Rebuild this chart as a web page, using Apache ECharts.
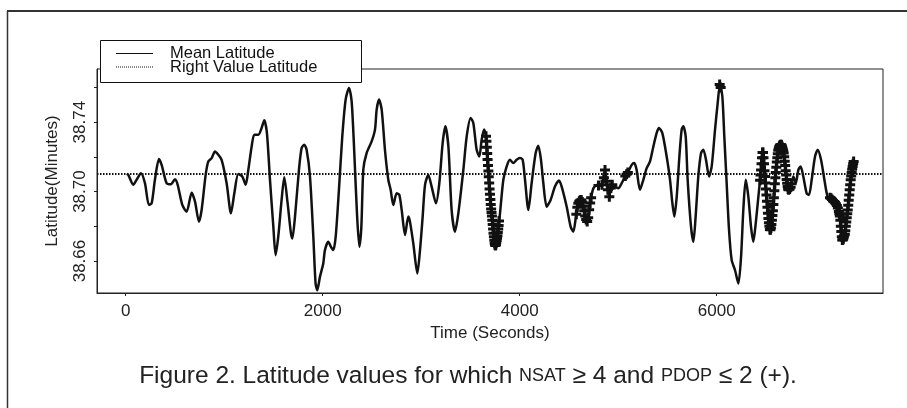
<!DOCTYPE html>
<html><head><meta charset="utf-8">
<script src="https://cdn.jsdelivr.net/npm/echarts@6/dist/echarts.min.js"></script>
<style>html,body{margin:0;padding:0;background:#fff}#c{width:907px;height:408px}</style>
</head><body><div id="c"></div>
<script>
// Mean latitude (time in seconds, latitude in minutes)
const timeSec = [10,27,77,111,155,196,236,264,297,338,365,416,460,500,528,575,619,670,704,744,771,812,839,873,907,940,974,1025,1069,1103,1143,1184,1218,1245,1279,1306,1347,1380,1407,1434,1465,1499,1522,1549,1583,1610,1644,1678,1692,1719,1759,1786,1813,1837,1871,1905,1928,1945,1972,2006,2023,2057,2084,2108,2132,2165,2199,2233,2267,2294,2321,2348,2372,2392,2413,2446,2497,2531,2548,2572,2599,2632,2666,2690,2717,2751,2778,2802,2836,2869,2886,2920,2961,2988,3015,3039,3072,3106,3150,3184,3218,3245,3276,3309,3343,3377,3428,3462,3502,3529,3563,3590,3614,3638,3658,3681,3715,3749,3773,3800,3834,3868,3901,3935,3969,4003,4030,4054,4088,4121,4162,4189,4216,4240,4274,4314,4358,4399,4426,4477,4517,4544,4571,4595,4629,4653,4687,4714,4748,4788,4832,4866,4890,4910,4934,4967,5001,5035,5069,5103,5137,5164,5187,5221,5255,5289,5323,5357,5390,5414,5448,5492,5526,5550,5570,5594,5621,5644,5661,5685,5705,5739,5763,5786,5813,5841,5864,5891,5922,5949,5983,6010,6033,6057,6077,6101,6125,6152,6186,6220,6247,6270,6294,6321,6348,6372,6396,6423,6450,6467,6490,6517,6541,6568,6599,6626,6653,6680,6707,6727,6754,6778,6802,6829,6852,6879,6913,6937,6964,6998,7025,7059,7093,7126,7160,7194,7228,7252,7275,7302,7330,7360,7390];
const meanLat = [38.7102,38.7096,38.7039,38.7068,38.7106,38.7048,38.6923,38.6933,38.7068,38.7187,38.7154,38.7048,38.7042,38.7071,38.7039,38.6923,38.6884,38.6994,38.6942,38.6827,38.6894,38.7096,38.7174,38.7193,38.7231,38.7212,38.7183,38.7048,38.6875,38.6990,38.7102,38.7087,38.7039,38.7125,38.7260,38.7328,38.7328,38.7366,38.7411,38.7337,38.7068,38.6798,38.6634,38.6740,38.6952,38.7083,38.6933,38.6759,38.6730,38.6856,38.7125,38.7251,38.7270,38.7241,38.7087,38.6740,38.6470,38.6432,38.6509,38.6586,38.6663,38.6711,38.6682,38.6663,38.6740,38.7010,38.7318,38.7530,38.7597,38.7520,38.7222,38.6875,38.6682,38.6790,38.7130,38.7222,38.7289,38.7357,38.7472,38.7530,38.7472,38.7241,38.7068,38.7010,38.6923,38.6990,38.6981,38.6894,38.6750,38.6856,38.6827,38.6701,38.6528,38.6663,38.6856,38.7039,38.7096,38.7029,38.6933,38.7048,38.7280,38.7376,38.7260,38.6894,38.6769,38.6875,38.7125,38.7318,38.7424,38.7395,38.7241,38.7202,38.7299,38.7357,38.7318,38.7125,38.6875,38.6692,38.6740,38.6875,38.7068,38.7145,38.7183,38.7164,38.7183,38.7193,38.7183,38.7068,38.6894,38.7048,38.7222,38.7264,38.7183,38.7048,38.6913,38.6952,38.7029,38.7064,38.7029,38.6913,38.6798,38.6769,38.6856,38.6933,38.6952,38.6894,38.6827,38.6933,38.7019,38.7039,38.7039,38.7125,38.7029,38.6971,38.7039,38.7029,38.7019,38.7048,38.7087,38.7115,38.7154,38.7164,38.7125,38.7010,38.7068,38.7135,38.7174,38.7260,38.7337,38.7366,38.7337,38.7202,38.7068,38.6933,38.6856,38.6971,38.7202,38.7357,38.7376,38.7318,38.7068,38.6798,38.6711,38.6856,38.7087,38.7222,38.7241,38.7183,38.7087,38.7145,38.7357,38.7511,38.7617,38.7549,38.7318,38.7048,38.6779,38.6605,38.6547,38.6470,38.6624,38.6894,38.7068,38.6971,38.6798,38.6711,38.6817,38.6971,38.7125,38.7231,38.7087,38.6894,38.6779,38.6875,38.7106,38.7241,38.7270,38.7222,38.7087,38.7010,38.7029,38.7087,38.7048,38.7125,38.7145,38.7087,38.6990,38.6981,38.7068,38.7202,38.7241,38.7183,38.7068,38.6971,38.6962,38.6942,38.6913,38.6856,38.6721,38.6759,38.6894,38.7068,38.7174];

// Points flagged with "+" (NSAT >= 4 and PDOP <= 2)
const markTime = [3658,3662,3666,3670,3674,3678,3682,3686,3690,3694,3698,3702,3706,3710,3714,3718,3722,3726,3730,3734,3738,3742,3746,3750,3754,3758,3762,3766,3770,3774,3778,3782,3786,3790,
  4575,4585,4595,4605,4615,4625,4635,4645,4655,4665,4675,4685,4695,4705,4715,4725,
  4800,4835,4855,4866,4880,4895,4910,4925,4940,
  5072,5085,5098,
  6030,6040,
  6440,6445,6450,6455,6460,6465,6470,6475,6480,6485,6490,6495,6500,6505,6510,6515,6520,6525,6530,6535,6540,6545,6550,6555,6560,6565,6570,6575,6580,6585,6590,6595,6600,6605,6610,6615,6620,6625,6630,6635,6640,6645,6650,6655,6660,6665,6670,6675,6680,6685,6690,6695,6700,6705,6710,6715,6720,6725,6730,6740,6750,6760,
  7150,7160,7170,7180,7190,7200,7210,7220,7230,7240,7245,7250,7255,7260,7265,7270,7275,7280,7285,7290,7295,7300,7305,7310,7315,7320,7325,7330,7335,7340,7345,7350,7355,7360,7365,7370,7375,7380,7385,7390];
const markLat = [38.7318,38.7290,38.7255,38.7220,38.7185,38.7150,38.7118,38.7085,38.7050,38.7015,38.6985,38.6955,38.6925,38.6900,38.6880,38.6860,38.6835,38.6810,38.6785,38.6760,38.6740,38.6720,38.6703,38.6692,38.6690,38.6695,38.6705,38.6718,38.6732,38.6745,38.6765,38.6785,38.6805,38.6830,
  38.6870,38.6910,38.6933,38.6945,38.6950,38.6952,38.6940,38.6915,38.6890,38.6860,38.6840,38.6828,38.6850,38.6895,38.6935,38.6965,
  38.7035,38.7039,38.7080,38.7125,38.7060,38.7010,38.6971,38.7020,38.7040,
  38.7090,38.7100,38.7110,
  38.7617,38.7600,
  38.7065,38.7095,38.7125,38.7160,38.7195,38.7225,38.7225,38.7195,38.7160,38.7120,38.7087,38.7050,38.7015,38.6980,38.6945,38.6910,38.6875,38.6845,38.6820,38.6800,38.6782,38.6780,38.6790,38.6810,38.6835,38.6862,38.6890,38.6925,38.6965,38.7005,38.7045,38.7080,38.7110,38.7140,38.7170,38.7195,38.7218,38.7238,38.7250,38.7258,38.7264,38.7268,38.7270,38.7270,38.7264,38.7255,38.7245,38.7235,38.7222,38.7200,38.7175,38.7150,38.7120,38.7095,38.7070,38.7048,38.7030,38.7015,38.7010,38.7015,38.7025,38.7045,
  38.6965,38.6962,38.6955,38.6948,38.6943,38.6938,38.6930,38.6920,38.6905,38.6885,38.6872,38.6860,38.6835,38.6800,38.6770,38.6740,38.6721,38.6722,38.6728,38.6738,38.6748,38.6755,38.6775,38.6800,38.6825,38.6850,38.6872,38.6894,38.6922,38.6950,38.6980,38.7010,38.7040,38.7068,38.7090,38.7110,38.7128,38.7145,38.7160,38.7174];

const rightValueLat = 38.7067;
const xTickValues = [0, 2000, 4000, 6000];
const yTickValues = [38.66, 38.68, 38.70, 38.72, 38.74, 38.76];
const yLabelValues = [38.66, 38.70, 38.74];
const legendNames = ['Mean Latitude', 'Right Value Latitude'];
const axisNames = ['Time (Seconds)', 'Latitude(Minutes)'];
const captionText = 'Figure 2. Latitude values for which {sc|NSAT} \u2265 4 and {sc|PDOP} \u2264 2 (+).';

const chart = echarts.init(document.getElementById('c'), null, {renderer: 'canvas'});
const FONT = '"Liberation Sans", Arial, sans-serif';
const lineData = timeSec.map((t, i) => [t, meanLat[i]]);
const markData = markTime.map((t, i) => [t, markLat[i]]);

chart.setOption({
  animation: false,
  backgroundColor: '#fff',
  grid: {left: 97, right: 24, top: 69, bottom: 115, show: true, borderColor: '#222', borderWidth: 1, backgroundColor: 'transparent'},
  xAxis: {
    type: 'value', min: -291, max: 7688,
    name: axisNames[0], nameLocation: 'middle', nameGap: 29,
    nameTextStyle: {fontFamily: FONT, fontSize: 17, color: '#222'},
    axisLine: {show: true, onZero: false, lineStyle: {color: '#222', width: 1}},
    axisTick: {show: true, inside: false, length: 3, customValues: xTickValues, lineStyle: {color: '#222'}},
    axisLabel: {show: true, customValues: xTickValues, margin: 10, fontFamily: FONT, fontSize: 17, color: '#222',
      formatter: v => String(Math.round(v))},
    splitLine: {show: false}
  },
  yAxis: {
    type: 'value', min: 38.6416, max: 38.7706,
    name: axisNames[1], nameLocation: 'middle', nameGap: 36, nameRotate: 90,
    nameTextStyle: {fontFamily: FONT, fontSize: 17, color: '#222'},
    axisLine: {show: true, onZero: false, lineStyle: {color: '#222', width: 1}},
    axisTick: {show: true, inside: false, length: 3, customValues: yTickValues, lineStyle: {color: '#222'}},
    axisLabel: {show: true, customValues: yLabelValues, rotate: 90, margin: 8, fontFamily: FONT, fontSize: 17, color: '#222',
      formatter: v => Number(v).toFixed(2)},
    splitLine: {show: false}
  },
  series: [
    {
      name: legendNames[0], type: 'line', data: lineData, showSymbol: false, smooth: 0.25,
      lineStyle: {color: '#111', width: 2.5}, z: 3,
      markLine: {
        silent: true, symbol: 'none', label: {show: false},
        lineStyle: {color: '#111', width: 2, type: [1.5, 1.5]},
        data: [{yAxis: rightValueLat, name: legendNames[1]}]
      }
    },
    {
      name: 'NSAT>=4, PDOP<=2', type: 'scatter', data: markData,
      symbol: 'path://M3.5,0H6.5V3.5H10V6.5H6.5V10H3.5V6.5H0V3.5H3.5Z', symbolSize: 10,
      itemStyle: {color: '#111', opacity: 1}, z: 4
    }
  ],
  graphic: [
    {type: 'line', z: 50, shape: {x1: 7, y1: 11, x2: 907, y2: 11}, style: {stroke: '#333', lineWidth: 1.8}},
    {type: 'line', z: 50, shape: {x1: 7.5, y1: 11, x2: 7.5, y2: 408}, style: {stroke: '#333', lineWidth: 1.5}},
    {type: 'rect', z: 100, shape: {x: 100.5, y: 40.5, width: 261, height: 42}, style: {fill: '#fff', stroke: '#111', lineWidth: 1}},
    {type: 'line', z: 101, shape: {x1: 116, y1: 53.5, x2: 153, y2: 53.5}, style: {stroke: '#111', lineWidth: 1}},
    {type: 'line', z: 101, shape: {x1: 116, y1: 67, x2: 153, y2: 67}, style: {stroke: '#111', lineWidth: 1, lineDash: [1, 1]}},
    {type: 'text', z: 101, style: {text: legendNames[0], x: 170, y: 53.6, verticalAlign: 'middle', align: 'left', font: '16.5px ' + FONT, fill: '#111'}},
    {type: 'text', z: 101, style: {text: legendNames[1], x: 170, y: 67.6, verticalAlign: 'middle', align: 'left', font: '16.5px ' + FONT, fill: '#111'}},
    {type: 'text', z: 101, style: {text: captionText, x: 468, y: 376, align: 'center', verticalAlign: 'middle',
      fontFamily: FONT, fontSize: 24.5, fill: '#222', rich: {sc: {fontFamily: FONT, fontSize: 18, fill: '#222'}}}}
  ]
});
</script>
</body></html>
